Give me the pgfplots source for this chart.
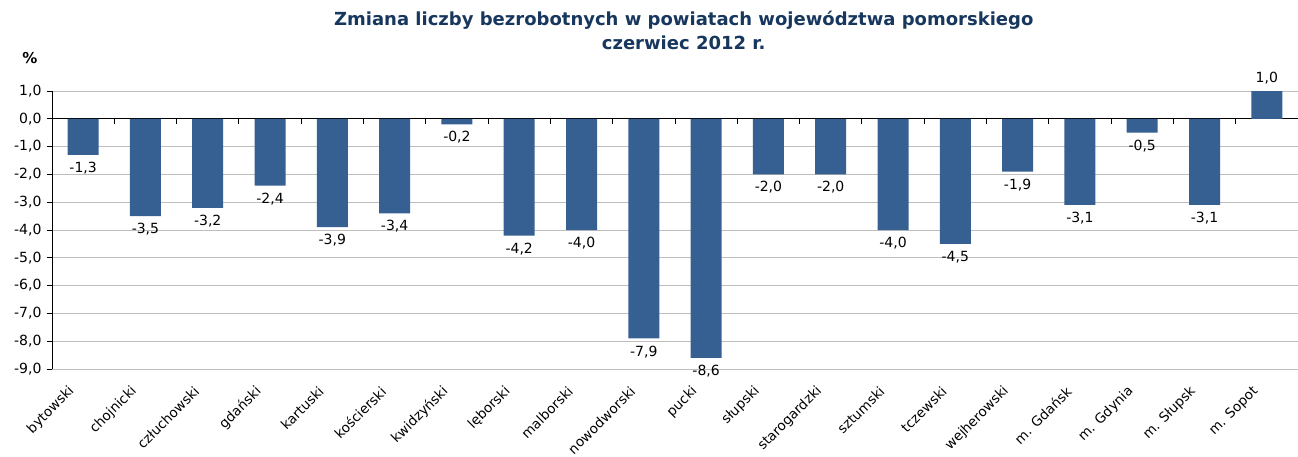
\documentclass[border=0pt]{standalone}
\usepackage{pgfplots}
\pgfplotsset{compat=1.18}
\usepackage{fontspec}
\setmainfont{DejaVu Sans}
\definecolor{barblue}{RGB}{55,96,146}
\definecolor{titleblue}{RGB}{23,55,94}
\definecolor{gridgray}{RGB}{190,190,190}
\begin{document}
\begin{tikzpicture}
\useasboundingbox (-52pt,-87pt) rectangle (1246pt,369pt);
\begin{axis}[
  at={(0pt,0pt)}, anchor=south west,
  scale only axis, width=1246pt, height=278pt,
  xmin=-0.5, xmax=19.5, ymin=-9, ymax=1,
  ybar, bar width=31pt,
  axis lines*=left,
  x axis line style={draw=none},
  y axis line style={draw=black, line width=0.8pt},
  xtick={0,...,19},
  xticklabels={bytowski,chojnicki,człuchowski,gdański,kartuski,kościerski,kwidzyński,lęborski,malborski,nowodworski,pucki,słupski,starogardzki,sztumski,tczewski,wejherowski,m. Gdańsk,m. Gdynia,m. Słupsk,m. Sopot},
  xtick style={draw=none},
  xticklabel style={font=\fontsize{13.5}{15}\selectfont, xshift=-11pt, yshift=-15pt, rotate=45, anchor=east, inner sep=0pt},
  ytick={-9,-8,...,1},
  ytick style={draw=black, line width=0.8pt},
  tick align=outside, major tick length=5pt,
  yticklabel style={font=\fontsize{14}{16}\selectfont, xshift=-2pt, /pgf/number format/.cd, fixed, fixed zerofill, precision=1, use comma, assume math mode=true},
  ymajorgrids, grid style={gridgray, line width=0.8pt},
  extra y ticks={0}, extra y tick labels={},
  extra y tick style={grid style={black, line width=0.9pt}},
  nodes near coords={\pgfmathprintnumber[fixed,fixed zerofill,precision=1,use comma,assume math mode=true]{\pgfplotspointmeta}},
  nodes near coords style={font=\fontsize{14}{16}\selectfont, text=black, inner sep=7pt},
  clip=false,
]
\addplot[fill=barblue, draw=none] coordinates {
(0,-1.3) (1,-3.5) (2,-3.2) (3,-2.4) (4,-3.9) (5,-3.4) (6,-0.2) (7,-4.2) (8,-4.0) (9,-7.9)
(10,-8.6) (11,-2.0) (12,-2.0) (13,-4.0) (14,-4.5) (15,-1.9) (16,-3.1) (17,-0.5) (18,-3.1) (19,1.0)};
\pgfplotsinvokeforeach{0,...,19}{\draw[black, line width=0.8pt] (axis cs:#1+0.5,0) -- ++(0pt,-5pt);}
\node[align=center, font=\bfseries\fontsize{18}{24}\selectfont, text=titleblue] at (rel axis cs:0.507,1) [yshift=61pt] {Zmiana liczby bezrobotnych w powiatach województwa pomorskiego\\czerwiec 2012 r.};
\node[font=\bfseries\fontsize{15}{17}\selectfont] at (rel axis cs:0,1) [xshift=-22pt, yshift=33pt] {\%};
\end{axis}
\end{tikzpicture}
\end{document}
